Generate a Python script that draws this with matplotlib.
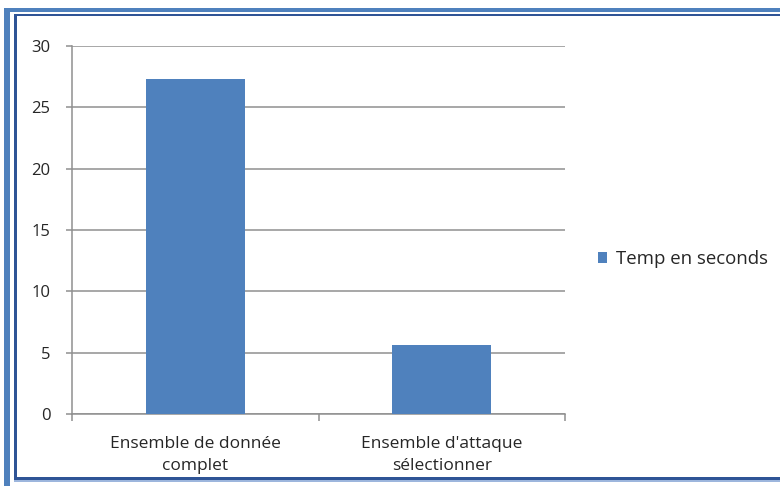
import matplotlib.pyplot as plt
from matplotlib.patches import Rectangle

# values
categories = ['Ensemble de donnée\ncomplet', "Ensemble d'attaque\nsélectionner"]
temps = [27.3, 5.6]
series_name = 'Temp en seconds'
y_ticks = [0, 5, 10, 15, 20, 25, 30]

W, H = 780, 486
plt.rcParams['font.family'] = ['Open Sans', 'DejaVu Sans']
plt.rcParams['text.color'] = '#262626'

fig = plt.figure(figsize=(W / 100, H / 100), dpi=100)
ax = fig.add_axes([72 / W, 1 - 414 / H, (565 - 72) / W, (414 - 46) / H])

bars = ax.bar(range(len(categories)), temps, width=0.4, color='#4F81BD',
              label=series_name, zorder=3)

ax.set_xlim(-0.5, len(categories) - 0.5)
ax.set_ylim(0, 30)
ax.set_yticks(y_ticks)
ax.yaxis.grid(True, color='#8f8f8f', linewidth=1.1, zorder=0)

for side in ['top', 'right']:
    ax.spines[side].set_visible(False)
for side in ['left', 'bottom']:
    ax.spines[side].set_color('#8f8f8f')
    ax.spines[side].set_linewidth(1.1)

ax.set_xticks(range(len(categories)))
ax.set_xticklabels(categories, fontsize=12.5, linespacing=1.55)
ax.set_xticks([-0.5, 0.5, 1.5], minor=True)
ax.tick_params(axis='x', which='major', length=0, pad=15.5, colors='#262626')
ax.tick_params(axis='x', which='minor', length=5, width=1.1, color='#8f8f8f')
ax.tick_params(axis='y', length=4.5, width=1.1, color='#8f8f8f', pad=11,
               labelsize=12, labelcolor='#262626')

ax.legend(loc='center left', bbox_to_anchor=(598 / W, 1 - 259 / H),
          bbox_transform=fig.transFigure, frameon=False, fontsize=13.4,
          handlelength=0.5, handleheight=0.5, handletextpad=0.45, borderpad=0,
          borderaxespad=0)


def band(x0, y0, x1, y1, color):
    fig.add_artist(Rectangle((x0 / W, 1 - y1 / H), (x1 - x0) / W, (y1 - y0) / H,
                             transform=fig.transFigure, color=color, lw=0))


# double frame around the picture
band(4, 8, W, 12.5, '#4F81BD')
band(4, 8, 10, H, '#4F81BD')
band(14, 14, W, 16.5, '#2F5496')
band(14, 14, 17, 480, '#2F5496')
band(14, 477, W, 480, '#2F5496')
band(14, 480, W, 482, '#9DB6DD')

fig.savefig('out.png', dpi=100)
